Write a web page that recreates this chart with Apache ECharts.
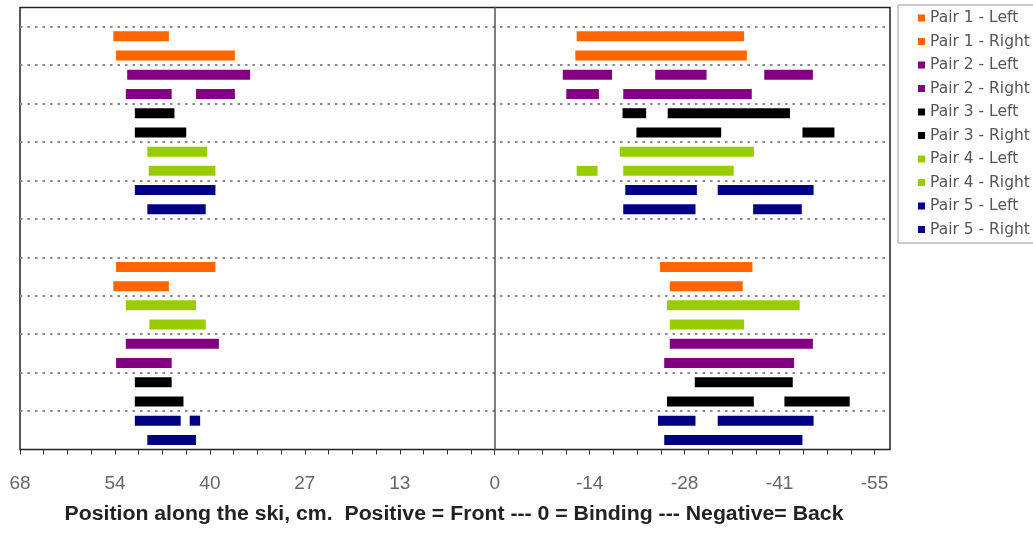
<!DOCTYPE html>
<html><head><meta charset="utf-8">
<script src="https://cdn.jsdelivr.net/npm/echarts@6/dist/echarts.min.js"></script>
<style>html,body{margin:0;padding:0;background:#fff}#c{width:1033px;height:536px}</style>
</head><body><div id="c"></div>
<script>
// Series names and colours
const seriesNames = ['Pair 1 - Left','Pair 1 - Right','Pair 2 - Left','Pair 2 - Right','Pair 3 - Left','Pair 3 - Right','Pair 4 - Left','Pair 4 - Right','Pair 5 - Left','Pair 5 - Right'];
const seriesColors = ['#FF6600','#FF6600','#800080','#800080','#000000','#000000','#99CC00','#99CC00','#000080','#000080'];

// Segments: [front end (cm), back end (cm), row]
const pair1Left  = [[54.9,46.9,21.5],[-11.8,-35.9,21.5],[54.5,40.2,9.5],[-23.8,-37.1,9.5]];
const pair1Right = [[54.5,37.4,20.5],[-11.6,-36.3,20.5],[54.9,46.9,8.5],[-25.2,-35.7,8.5]];
const pair2Left  = [[52.9,35.2,19.5],[-9.8,-16.9,19.5],[-23.1,-30.5,19.5],[-38.8,-45.8,19.5],[53.1,39.7,5.5],[-25.2,-45.8,5.5]];
const pair2Right = [[53.1,46.5,18.5],[43.0,37.4,18.5],[-10.3,-15.0,18.5],[-18.5,-37.0,18.5],[54.5,46.5,4.5],[-24.4,-43.1,4.5]];
const pair3Left  = [[51.8,46.1,17.5],[-18.4,-21.8,17.5],[-24.9,-42.5,17.5],[51.8,46.5,3.5],[-28.8,-42.9,3.5]];
const pair3Right = [[51.8,44.4,16.5],[-20.4,-32.6,16.5],[-44.3,-48.9,16.5],[51.8,44.8,2.5],[-24.8,-37.3,2.5],[-41.7,-51.1,2.5]];
const pair4Left  = [[50.0,41.4,15.5],[-18.0,-37.3,15.5],[53.1,43.0,7.5],[-24.8,-43.9,7.5]];
const pair4Right = [[49.8,40.2,14.5],[-11.8,-14.8,14.5],[-18.5,-34.4,14.5],[49.7,41.6,6.5],[-25.2,-35.9,6.5]];
const pair5Left  = [[51.8,40.2,13.5],[-18.8,-29.1,13.5],[-32.1,-45.9,13.5],[51.8,45.2,1.5],[43.9,42.4,1.5],[-23.5,-28.9,1.5],[-32.1,-45.9,1.5]];
const pair5Right = [[50.0,41.6,12.5],[-18.5,-28.9,12.5],[-37.2,-44.2,12.5],[50.0,43.0,0.5],[-24.4,-44.3,0.5]];

// Axis
const tickLabels = ['68','54','40','27','13','0','-14','-28','-41','-55'];
const xFront = 68.33, xBack = -56.9, minorStep = 3.41667;
const axisTitle = 'Position along the ski, cm.  Positive = Front --- 0 = Binding --- Negative= Back';

const allData = [pair1Left,pair1Right,pair2Left,pair2Right,pair3Left,pair3Right,pair4Left,pair4Right,pair5Left,pair5Right];

function renderItem(params, api) {
  const a = api.coord([api.value(0), api.value(2)]);
  const b = api.coord([api.value(1), api.value(2)]);
  const h = 10;
  return {type:'rect', shape:{x:Math.min(a[0],b[0]), y:a[1]-h/2, width:Math.abs(b[0]-a[0]), height:h},
          style:{fill: api.visual('color')}};
}

const chart = echarts.init(document.getElementById('c'), null, {renderer:'canvas'});
chart.setOption({
  animation:false,
  backgroundColor:'#fff',
  grid:{left:20, right:143, top:7.5, bottom:86.5, show:true, borderColor:'#222', borderWidth:1.5, backgroundColor:'#fff'},
  xAxis:[
    {type:'value', min:xBack, max:xFront, inverse:true, position:'top', show:false, splitLine:{show:false}},
    {type:'value', min:0, max:xFront - xBack, interval:minorStep, position:'bottom',
     axisLine:{show:false}, splitLine:{show:false},
     axisTick:{show:true, length:5, lineStyle:{color:'#333', width:1}},
     axisLabel:{margin:25, color:'#666', fontSize:19, fontFamily:"'Liberation Sans',Arial,sans-serif",
       showMaxLabel:false,
       formatter:function(v){ const i = Math.round(v/minorStep); if (Math.abs(v - i*minorStep) > 0.01) return ''; return (i%4===0 && tickLabels[i/4]!==undefined) ? tickLabels[i/4] : ''; }}}
  ],
  yAxis:{type:'value', min:0, max:23, interval:2,
    axisLabel:{show:false}, axisTick:{show:false},
    axisLine:{show:true, onZero:true, onZeroAxisIndex:0, lineStyle:{color:'#555', width:1.5}},
    splitLine:{show:true, showMinLine:false, showMaxLine:false, lineStyle:{color:'#8a8a8a', width:2, type:[2.5,5]}}},
  legend:{orient:'vertical', left:898, top:5, itemWidth:7, itemHeight:7, itemGap:7.5, icon:'rect',
    padding:[5,20,5.5,20], borderColor:'#999', borderWidth:1, selectedMode:false,
    textStyle:{fontFamily:"'DejaVu Sans',sans-serif", fontSize:15.5, color:'#555', lineHeight:16},
    data:seriesNames},
  graphic:[{type:'text', x:454, y:515, scaleX:1.09, style:{text:axisTitle, textAlign:'center', textVerticalAlign:'middle',
    font:"bold 19.5px 'Liberation Sans',Arial,sans-serif", fill:'#222'}}],
  series: allData.map((d,i)=>({
    type:'custom', name:seriesNames[i], xAxisIndex:0, yAxisIndex:0,
    itemStyle:{color:seriesColors[i]}, encode:{x:[0,1], y:2},
    renderItem:renderItem, data:d
  }))
});
</script></body></html>
